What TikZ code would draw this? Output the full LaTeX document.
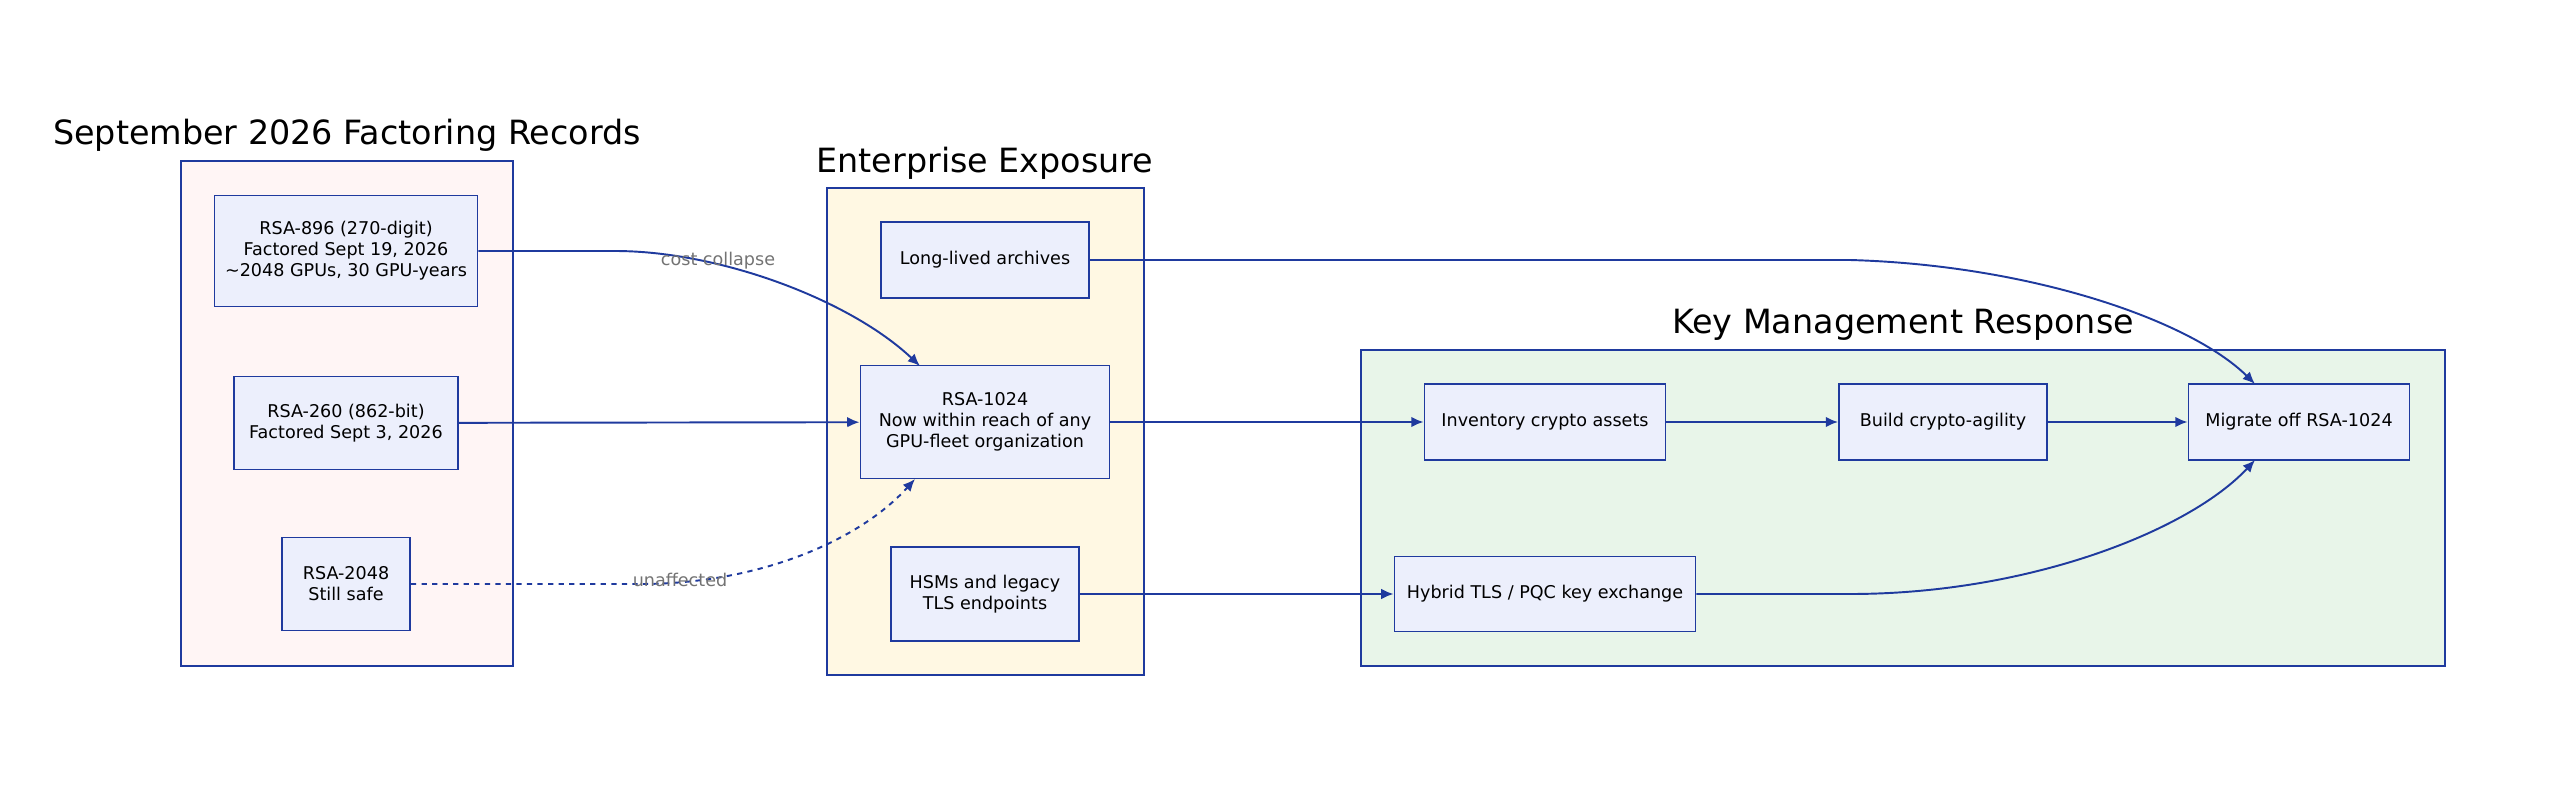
\documentclass[tikz,border=0pt]{standalone}
\usepackage{fontspec}
\setmainfont{DejaVu Sans}
\usetikzlibrary{arrows.meta}
\definecolor{edgeblue}{HTML}{1F3A9E}
\definecolor{boxfill}{HTML}{ECEFFC}
\definecolor{pinkfill}{HTML}{FFF5F5}
\definecolor{yellowfill}{HTML}{FFF8E3}
\definecolor{greenfill}{HTML}{E8F5E9}
\tikzset{
  keybox/.style={draw=edgeblue, fill=boxfill, line width=1.1pt, align=center,
    font=\fontsize{10}{12}\selectfont, inner sep=0pt},
  group/.style={draw=edgeblue, line width=1.1pt},
  grouptitle/.style={font=\fontsize{19}{22}\selectfont},
  flow/.style={draw=edgeblue, line width=1.1pt, -{Latex[length=7pt,width=6pt]}},
  tag/.style={font=\fontsize{10}{12}\selectfont, text=gray!90!black},
}
\begin{document}
\begin{tikzpicture}[x=0.02cm,y=-0.02cm]
        \useasboundingbox (0,0) rectangle (2560,791);

        % groups
        \draw[group, fill=pinkfill] (181,161) rectangle (513,666);
        \node[grouptitle](T1) at (347,135) {September 2026 Factoring Records};
        \draw[group, fill=yellowfill] (827,188) rectangle (1144,675);
        \node[grouptitle](T2) at (985,163) {Enterprise Exposure};
        \draw[group, fill=greenfill] (1361,350) rectangle (2445,666);
        \node[grouptitle](T3) at (1903,325) {Key Management Response};

        % records
        \node[keybox, minimum width=263*0.02cm, minimum height=111*0.02cm](R896) at (346,251) {RSA-896 (270-digit)\\Factored Sept 19, 2026\\\textasciitilde2048 GPUs, 30 GPU-years};
        \node[keybox, minimum width=224*0.02cm, minimum height=93*0.02cm](R260) at (346,423) {RSA-260 (862-bit)\\Factored Sept 3, 2026};
        \node[keybox, minimum width=128*0.02cm, minimum height=93*0.02cm](R2048) at (346,584) {RSA-2048\\Still safe};

        % exposure
        \node[keybox, minimum width=208*0.02cm, minimum height=76*0.02cm](Arch) at (985,260) {Long-lived archives};
        \node[keybox, minimum width=249*0.02cm, minimum height=113*0.02cm](R1024) at (985,422) {RSA-1024\\Now within reach of any\\GPU-fleet organization};
        \node[keybox, minimum width=188*0.02cm, minimum height=94*0.02cm](HSM) at (985,594) {HSMs and legacy\\TLS endpoints};

        % response
        \node[keybox, minimum width=241*0.02cm, minimum height=76*0.02cm](Inv) at (1545,422) {Inventory crypto assets};
        \node[keybox, minimum width=208*0.02cm, minimum height=76*0.02cm](Agil) at (1943,422) {Build crypto-agility};
        \node[keybox, minimum width=221*0.02cm, minimum height=76*0.02cm](Migr) at (2299,422) {Migrate off RSA-1024};
        \node[keybox, minimum width=301*0.02cm, minimum height=75*0.02cm](Hyb) at (1545,594) {Hybrid TLS / PQC key exchange};

        \coordinate(C1024a) at (920,366);
        \coordinate(C1024b) at (915,479);
        \coordinate(CMigA) at (2255,384);
        \coordinate(CMigB) at (2255,460);

        \draw[flow] (R896.east) -- (615,251) .. controls (720,251) and (850,300) .. (C1024a);
        \node[tag](L1) at (718,261) {cost collapse};
        \draw[flow] (R260) -- (R1024);
        \draw[flow, dashed] (R2048.east) -- (640,584) .. controls (760,584) and (860,540) .. (C1024b);
        \node[tag](L2) at (680,580) {unaffected};
        \draw[flow] (R1024) -- (Inv);
        \draw[flow] (Inv) -- (Agil);
        \draw[flow] (Agil) -- (Migr);
        \draw[flow] (Arch.east) -- (1850,260) .. controls (2030,265) and (2190,320) .. (CMigA);
        \draw[flow] (HSM) -- (Hyb);
        \draw[flow] (Hyb.east) -- (1850,594) .. controls (2030,594) and (2190,530) .. (CMigB);
      \end{tikzpicture}
\end{document}
